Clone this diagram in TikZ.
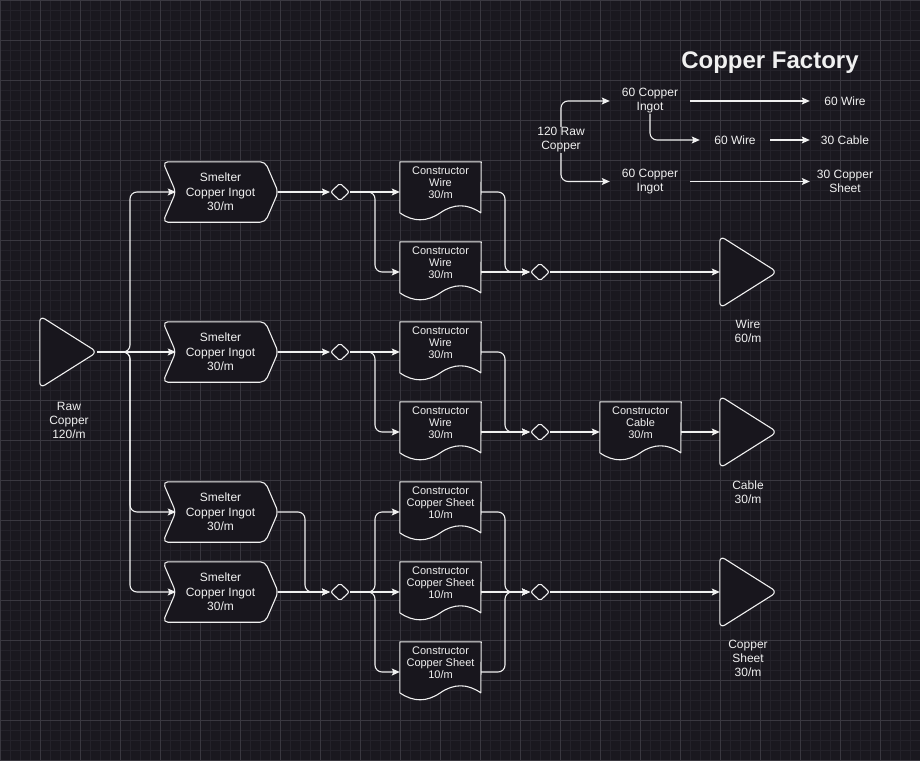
\documentclass[tikz,border=0pt]{standalone}
\usepackage{fontspec}
\setmainfont{Liberation Sans}
\usetikzlibrary{shapes.geometric,arrows.meta,calc}
\definecolor{bgc}{RGB}{26,24,31}
\definecolor{gmin}{RGB}{36,34,42}
\definecolor{gmaj}{RGB}{58,56,64}
\definecolor{fg}{RGB}{240,240,240}
\definecolor{shfill}{RGB}{24,22,29}
\pgfdeclarelayer{bgl}\pgfdeclarelayer{shp}\pgfsetlayers{bgl,shp,main}
\tikzset{
 outl/.style={draw=fg, line width=1.1pt, fill=shfill, line join=round},
 lbl/.style={text=fg, align=center, inner sep=0pt, font=\fontsize{12}{14}\selectfont},
 smbox/.style={rectangle, minimum width=115pt, minimum height=60pt, inner sep=0pt, text=fg, align=center, font=\fontsize{12}{14.5}\selectfont},
 cnbox/.style={rectangle, minimum width=81pt, minimum height=60pt, inner sep=0pt},
 cntxt/.style={text=fg, align=center, inner sep=0pt, font=\fontsize{11}{11.7}\selectfont},
 trbox/.style={rectangle, minimum width=57pt, minimum height=72pt, inner sep=0pt},
 dia/.style={diamond, draw=fg, fill=shfill, line width=1.1pt, minimum width=19pt, minimum height=18pt, inner sep=0pt, rounded corners=2pt},
 conn/.style={draw=fg, line width=1.1pt, rounded corners=7pt, -{Stealth[length=8pt,width=7pt,inset=1.5pt]}},
 leg/.style={text=fg, align=center, inner xsep=0pt, inner ysep=0pt, font=\fontsize{12}{14}\selectfont},
}
\newcommand{\mkSmelter}[3]{%
 \node[smbox] (#1) at (#2,#3) {Smelter\\Copper Ingot\\30/m};
 \begin{pgfonlayer}{shp}
 \draw[outl, rounded corners=5pt] (#1.north) -- ([xshift=-13pt]#1.north east) -- (#1.east) -- ([xshift=-13pt]#1.south east) -- (#1.south west) -- ([xshift=13pt]#1.west) -- (#1.north west) -- cycle;
 \end{pgfonlayer}
 \coordinate (#1in) at ([xshift=13pt]#1.west);
}
\newcommand{\mkCons}[4]{%
 \node[cnbox] (#1) at (#2,#3) {};
 \node[cntxt] (#1t) at ([yshift=9.4pt]#1.center) {#4};
 \begin{pgfonlayer}{shp}
 \draw[outl] (#1.north west) -- (#1.north east) -- ($(#1.north west)+(81,51)$) .. controls ($(#1.north west)+(67.5,41.67)$) and ($(#1.north west)+(54,41.67)$) .. ($(#1.north west)+(40.5,51)$) .. controls ($(#1.north west)+(27,60.33)$) and ($(#1.north west)+(13.5,60.33)$) .. ($(#1.north west)+(0,51)$) -- cycle;
 \end{pgfonlayer}
}
\newcommand{\mkTri}[3]{%
 \node[trbox] (#1) at (#2,#3) {};
 \begin{pgfonlayer}{shp}
 \draw[outl, rounded corners=6pt] ($(#1.north west)!0.5!(#1.south west)$) -- (#1.north west) -- (#1.east) -- (#1.south west) -- cycle;
 \end{pgfonlayer}
}
\begin{document}
\begin{tikzpicture}[x=1pt,y=-1pt]
\useasboundingbox (0,0) rectangle (920,760);
\begin{pgfonlayer}{bgl}
\fill[bgc] (0,0) rectangle (920,760);
\foreach \i in {0,10,...,920} \draw[gmin, line width=0.6pt] (\i,0) -- (\i,760);
\foreach \i in {0,10,...,760} \draw[gmin, line width=0.6pt] (0,\i) -- (920,\i);
\foreach \i in {0,40,...,920} \draw[gmaj, line width=0.7pt] (\i,0) -- (\i,760);
\foreach \i in {0,40,...,760} \draw[gmaj, line width=0.7pt] (0,\i) -- (920,\i);
\end{pgfonlayer}

% title
\node[text=fg, font=\fontsize{24}{28}\selectfont\bfseries] (title) at (770,63) {Copper Factory};

% raw copper input
\mkTri{rc}{68.5}{352}
\node[lbl] (rcl) at (69,420) {Raw\\Copper\\120/m};

% smelters
\mkSmelter{s1}{220.5}{192}
\mkSmelter{s2}{220.5}{352}
\mkSmelter{s3}{220.5}{512}
\mkSmelter{s4}{220.5}{592}

% diamonds
\node[dia] (d1) at (340,192) {};
\node[dia] (d2) at (540,272) {};
\node[dia] (d3) at (340,352) {};
\node[dia] (d4) at (540,432) {};
\node[dia] (d5) at (340,592) {};
\node[dia] (d6) at (540,592) {};

% constructors
\mkCons{w1}{440.5}{192}{Constructor\\Wire\\30/m}
\mkCons{w2}{440.5}{272}{Constructor\\Wire\\30/m}
\mkCons{w3}{440.5}{352}{Constructor\\Wire\\30/m}
\mkCons{w4}{440.5}{432}{Constructor\\Wire\\30/m}
\mkCons{cb}{640.5}{432}{Constructor\\Cable\\30/m}
\mkCons{cs1}{440.5}{512}{Constructor\\Copper Sheet\\10/m}
\mkCons{cs2}{440.5}{592}{Constructor\\Copper Sheet\\10/m}
\mkCons{cs3}{440.5}{672}{Constructor\\Copper Sheet\\10/m}

% outputs
\mkTri{wT}{748.5}{272}
\node[lbl] (wl) at (748,331.5) {Wire\\60/m};
\mkTri{cT}{748.5}{432}
\node[lbl] (cl) at (748,492) {Cable\\30/m};
\mkTri{shT}{748.5}{592}
\node[lbl] (shl) at (748,658.5) {Copper\\Sheet\\30/m};

% raw copper split
\draw[conn] (rc.east) -- (130,352) |- (s1in);
\draw[conn] (rc.east) -- (s2in);
\draw[conn] (rc.east) -- (130,352) |- (s3in);
\draw[conn] (rc.east) -- (130,352) |- (s4in);

% row 1
\draw[conn] (s1.east) -- (d1.west);
\draw[conn] (d1.east) -- (w1.west);
\draw[conn] (d1.east) -- (375,192) |- (w2.west);
\draw[conn] (w1.east) -- (505,192) |- (d2.west);
\draw[conn] (w2.east) -- (d2.west);
\draw[conn] (d2.east) -- (wT.west);

% row 2
\draw[conn] (s2.east) -- (d3.west);
\draw[conn] (d3.east) -- (w3.west);
\draw[conn] (d3.east) -- (375,352) |- (w4.west);
\draw[conn] (w3.east) -- (505,352) |- (d4.west);
\draw[conn] (w4.east) -- (d4.west);
\draw[conn] (d4.east) -- (cb.west);
\draw[conn] (cb.east) -- (cT.west);

% row 3
\draw[conn] (s3.east) -- (305,512) |- (d5.west);
\draw[conn] (s4.east) -- (d5.west);
\draw[conn] (d5.east) -- (375,592) |- (cs1.west);
\draw[conn] (d5.east) -- (cs2.west);
\draw[conn] (d5.east) -- (375,592) |- (cs3.west);
\draw[conn] (cs1.east) -- (505,512) |- (d6.west);
\draw[conn] (cs2.east) -- (d6.west);
\draw[conn] (cs3.east) -- (505,672) |- (d6.west);
\draw[conn] (d6.east) -- (shT.west);

% legend
\node[leg, minimum width=80pt] (ing1) at (650,101) {60 Copper\\Ingot};
\node[leg, minimum width=80pt] (ing2) at (650,181.5) {60 Copper\\Ingot};
\node[leg, minimum height=26pt] (rawl) at (561,140) {120 Raw\\Copper};
\node[leg, minimum width=70pt] (wl1) at (845,101) {60 Wire};
\node[leg, minimum width=70pt] (wl2) at (735,140) {60 Wire};
\node[leg, minimum width=70pt] (cbl) at (845,140) {30 Cable};
\node[leg, minimum width=70pt] (shl2) at (845,181.5) {30 Copper\\Sheet};
\draw[conn] (rawl.north) |- (ing1.west);
\draw[conn] (rawl.south) |- (ing2.west);
\draw[conn] (ing1.east) -- (wl1.west);
\draw[conn] (ing1.south) |- (wl2.west);
\draw[conn] (wl2.east) -- (cbl.west);
\draw[conn] (ing2.east) -- (shl2.west);
\end{tikzpicture}
\end{document}
